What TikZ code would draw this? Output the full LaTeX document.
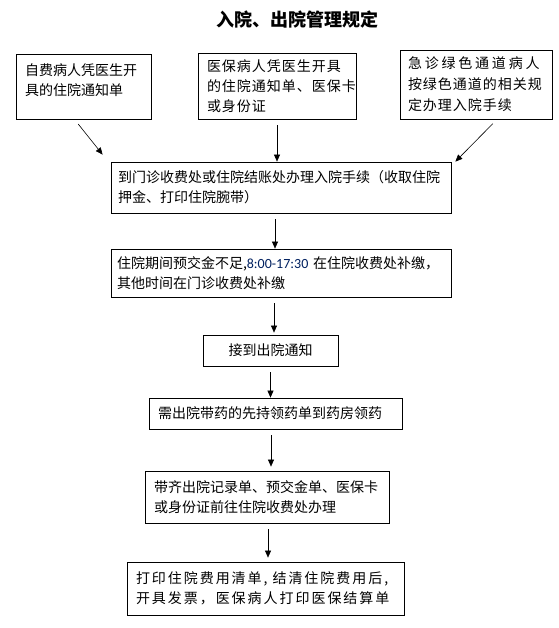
\documentclass[tikz,border=0pt]{standalone}
\usepackage{fontspec}
\setmainfont{Noto Sans CJK SC}
\newfontfamily\numfont{Carlito}
\newfontfamily\cjkwideA[LetterSpace=7]{Noto Sans CJK SC}
\newfontfamily\cjkwideB[LetterSpace=14]{Noto Sans CJK SC}
\newfontfamily\cjkwideC[LetterSpace=20]{Noto Sans CJK SC}
\usetikzlibrary{arrows.meta,positioning}
\definecolor{Navy}{HTML}{002060}

\begin{document}
\begin{tikzpicture}[x=1pt,y=-1pt,
  box/.style={draw,line width=0.8pt,inner xsep=9pt,inner ysep=0pt,align=left,font=\fontsize{14}{20}\selectfont},
  flow/.style={-{Triangle[length=7pt,width=6pt]},line width=0.6pt,shorten <=6pt}]
  \useasboundingbox (0,0) rectangle (558,628);
  \node[font=\fontsize{18}{20}\selectfont\bfseries] (title) at (297,20) {入院、出院管理规定};
  \node[box,text width=117pt,minimum height=65pt] (selfpay) at (83.5,86.5) {自费病人凭医生开\\具的住院通知单\\[-7pt]\mbox{}};
  \node[box,text width=140pt,minimum height=66pt,font=\fontsize{14}{20}\cjkwideA] (insured) at (277,86) {医保病人凭医生开具\\的住院通知单、医保卡\\或身份证};
  \node[box,text width=136pt,inner xsep=8pt,minimum height=69pt,font=\fontsize{14}{21}\cjkwideA] (emergency) at (476,84.5) {{\cjkwideC 急诊绿色通道病人}\\按绿色通道的相关规\\定办理入院手续};
  \node[box,text width=326pt,inner xsep=7pt,minimum height=51pt] (admit) at (281,187.5) {到门诊收费处或住院结账处办理入院手续（收取住院\\押金、打印住院腕带）};
  \node[box,text width=328pt,inner xsep=6pt,minimum height=48pt] (deposit) at (281,273) {住院期间预交金不足,{\numfont\color{Navy}8:00-17:30} 在住院收费处补缴，\\其他时间在门诊收费处补缴};
  \node[box,align=center,minimum width=135pt,minimum height=31pt] (notice) at (270.5,350.5) {接到出院通知};
  \node[box,text width=235pt,minimum height=31pt] (medicine) at (275.5,413.5) {需出院带药的先持领药单到药房领药};
  \node[box,text width=226pt,minimum height=52pt] (papers) at (267,497) {带齐出院记录单、预交金单、医保卡\\或身份证前往住院收费处办理};
  \node[box,text width=259pt,minimum height=53pt,font=\fontsize{14}{20}\cjkwideB] (invoice) at (265.5,588.5) {打印住院费用清单,\hspace{5pt}结清住院费用后,\\开具发票，医保病人打印医保结算单};
  \draw[flow] ([xshift=-9pt]selfpay.south) -- ([shift={(-8,-7)}]admit.north west);
  \draw[flow] (insured.south) -- (insured.south |- admit.north);
  \draw[flow] ([xshift=21pt]emergency.south) -- ([xshift=4pt]admit.north east);
  \draw[flow] ([xshift=-6pt]admit.south) -- ([xshift=-6pt]admit.south |- deposit.north);
  \draw[flow,shorten >=2pt] ([xshift=-7pt]deposit.south) -- ([xshift=-7pt]deposit.south |- notice.north);
  \draw[flow] (notice.south) -- (notice.south |- medicine.north);
  \draw[flow,shorten >=4pt] ([xshift=-4.5pt]medicine.south) -- ([xshift=-4.5pt]medicine.south |- papers.north);
  \draw[flow,shorten >=4pt] ([xshift=1pt]papers.south) -- ([xshift=1pt]papers.south |- invoice.north);
\end{tikzpicture}
\end{document}
